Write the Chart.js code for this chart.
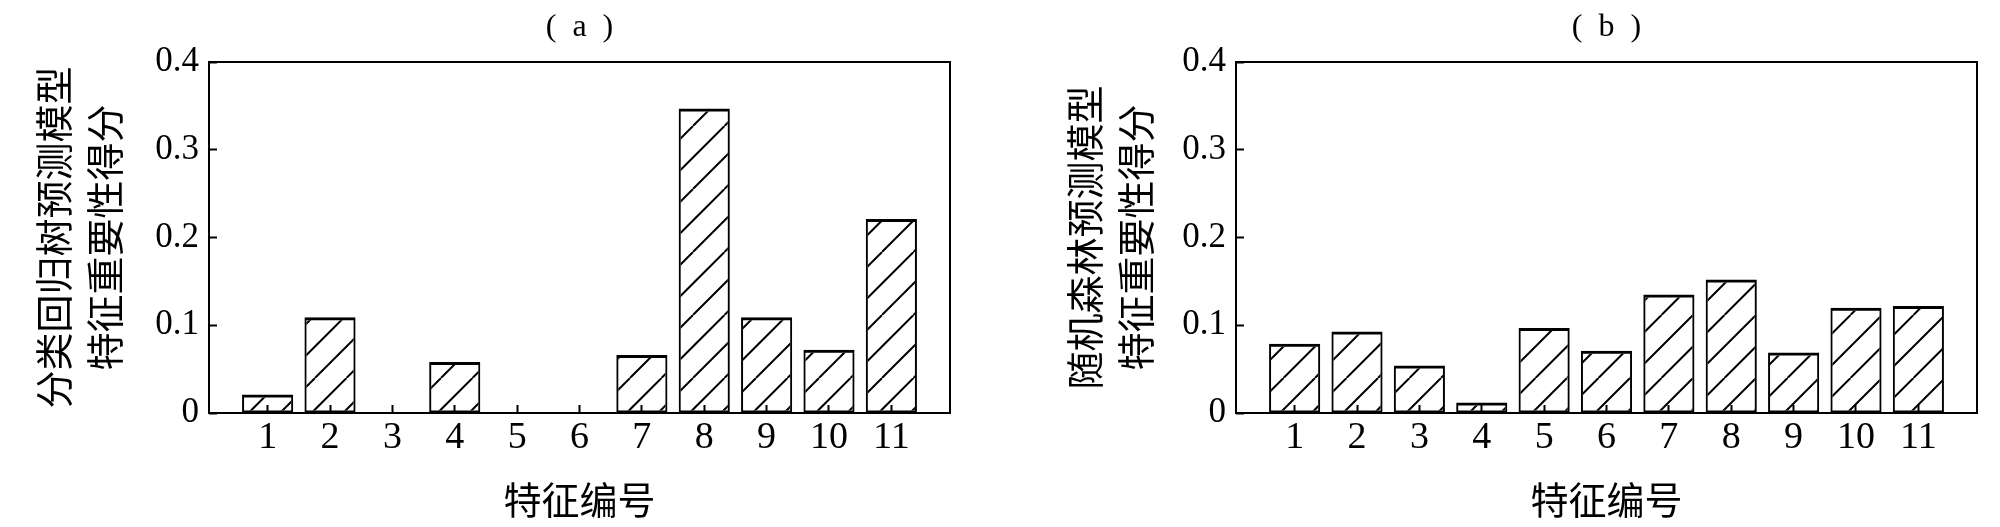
<!DOCTYPE html>
<html>
<head>
<meta charset="utf-8">
<title>特征重要性得分</title>
<script src="https://cdn.jsdelivr.net/npm/chart.js@4.4.1/dist/chart.umd.min.js"></script>
<style>
  html, body { margin: 0; padding: 0; background: #fff; }
  #wrap { display: flex; width: 2000px; height: 527px; }
  canvas { display: block; }
</style>
</head>
<body>
<div id="wrap">
  <canvas id="chartA" width="1000" height="527"></canvas>
  <canvas id="chartB" width="1000" height="527"></canvas>
</div>
<script>
// Data
const featureIds = [1, 2, 3, 4, 5, 6, 7, 8, 9, 10, 11];
const cartScores = [0.021, 0.109, 0, 0.058, 0, 0, 0.066, 0.347, 0.109, 0.072, 0.221];
const rfScores = [0.079, 0.093, 0.054, 0.012, 0.097, 0.071, 0.135, 0.152, 0.069, 0.120, 0.122];
const yTickLabels = ['0', '0.1', '0.2', '0.3', '0.4'];
const xAxisTitle = '特征编号';
const cartTitle = ['分类回归树预测模型', '特征重要性得分'];
const rfTitle = ['随机森林预测模型', '特征重要性得分'];

const serif = 'Liberation Serif';
const cjk = 'Noto Sans CJK SC';

// diagonal "/" hatching, period 31.5px
function makeHatch(ctx) {
    const size = 63;
    const tile = document.createElement('canvas');
    tile.width = size;
    tile.height = size;
    const g = tile.getContext('2d');
    g.strokeStyle = '#000';
    g.lineWidth = 2;
    g.beginPath();
    for (let k = -2; k <= 2; k++) {
        const off = k * 31.5;
        g.moveTo(off, size);
        g.lineTo(off + size, 0);
    }
    g.stroke();
    return ctx.createPattern(tile, 'repeat');
}

// closed frame around the plot area
const framePlugin = {
    id: 'frame',
    afterDatasetsDraw(chart) {
        const { ctx, chartArea: a } = chart;
        ctx.save();
        ctx.strokeStyle = '#000';
        ctx.lineWidth = 2;
        ctx.strokeRect(a.left, a.top, a.right - a.left, a.bottom - a.top);
        ctx.restore();
    }
};

// panel tag "( a )" centred over the plot area
const panelTagPlugin = {
    id: 'panelTag',
    afterDraw(chart, args, opts) {
        const { ctx, chartArea: a } = chart;
        ctx.save();
        ctx.fillStyle = '#000';
        ctx.font = '32px "' + serif + '"';
        ctx.textAlign = 'center';
        ctx.textBaseline = 'middle';
        ctx.fillText(opts.text, (a.left + a.right) / 2, 28);
        ctx.restore();
    }
};

function makeChart(id, scores, tag, yTitle, yTitlePad, yAxisWidth, rightPad) {
    const ctx = document.getElementById(id).getContext('2d');
    return new Chart(ctx, {
        type: 'bar',
        data: {
            datasets: [{
                data: featureIds.map((f, i) => ({ x: f, y: scores[i] })),
                backgroundColor: makeHatch(ctx),
                borderColor: '#000',
                borderWidth: { top: 3, left: 2, right: 2, bottom: 2 },
                borderSkipped: false,
                categoryPercentage: 1,
                barPercentage: 0.82
            }]
        },
        options: {
            responsive: false,
            animation: false,
            events: [],
            layout: { padding: { top: 62, right: rightPad, bottom: 0, left: 0 } },
            plugins: {
                legend: { display: false },
                tooltip: { enabled: false },
                panelTag: { text: tag }
            },
            scales: {
                x: {
                    type: 'linear',
                    min: 0.06,
                    max: 11.94,
                    offset: false,
                    z: 1,
                    ticks: {
                        stepSize: 1,
                        includeBounds: false,
                        autoSkip: false,
                        maxRotation: 0,
                        color: '#000',
                        padding: 10,
                        font: { family: serif, size: 38 }
                    },
                    grid: { offset: false, drawOnChartArea: false, tickLength: -8, tickWidth: 2, tickColor: '#000' },
                    border: { display: false },
                    title: {
                        display: true,
                        text: xAxisTitle,
                        color: '#000',
                        font: { family: cjk, size: 38 },
                        padding: { top: 0, bottom: 5 }
                    },
                    afterFit(scale) { scale.height = 114; }
                },
                y: {
                    min: 0,
                    max: 0.4,
                    z: 1,
                    ticks: {
                        stepSize: 0.1,
                        color: '#000',
                        padding: 18,
                        font: { family: serif, size: 35 },
                        callback: (v, i) => yTickLabels[i]
                    },
                    grid: { drawOnChartArea: false, tickLength: -8, tickWidth: 2, tickColor: '#000' },
                    border: { display: false },
                    title: {
                        display: true,
                        text: yTitle,
                        color: '#000',
                        font: { family: cjk, size: 38, lineHeight: 1.34 },
                        padding: { top: yTitlePad, bottom: 0 }
                    },
                    afterFit(scale) { scale.width = yAxisWidth; }
                }
            }
        },
        plugins: [framePlugin, panelTagPlugin]
    });
}

makeChart('chartA', cartScores, '(\u2002a\u2002)', cartTitle, 28, 209, 50);
makeChart('chartB', rfScores, '(\u2002b\u2002)', rfTitle, 59, 236, 23);
</script>
</body>
</html>
